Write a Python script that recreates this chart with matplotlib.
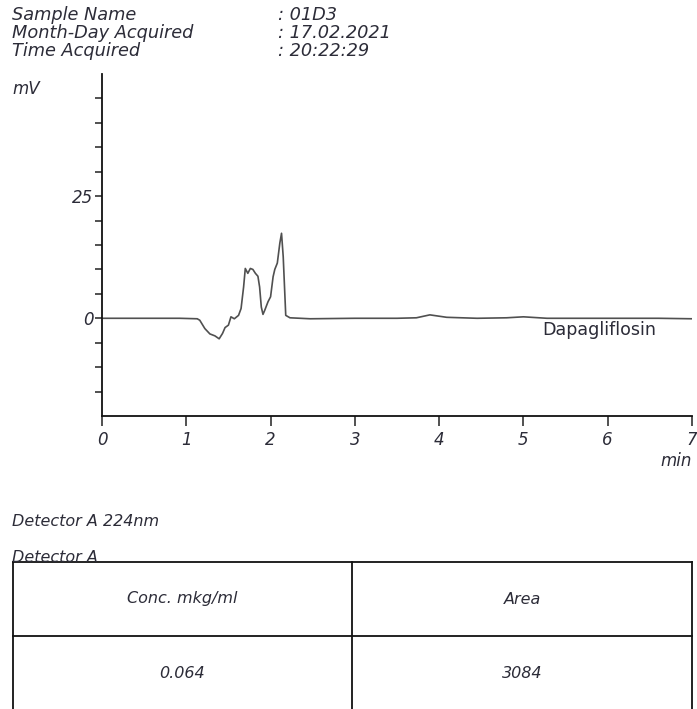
import matplotlib
matplotlib.use("Agg")
import matplotlib.pyplot as plt
from matplotlib.lines import Line2D

# ---------------- data ----------------
header_labels = ["Sample Name", "Month-Day Acquired", "Time Acquired"]
header_values = [": 01D3", ": 17.02.2021", ": 20:22:29"]

time_min = [0.0, 0.5, 0.92, 1.13, 1.16, 1.22, 1.28, 1.34, 1.39, 1.43, 1.46, 1.50,
            1.53, 1.57, 1.62, 1.65, 1.68, 1.70, 1.73, 1.76, 1.79, 1.82, 1.85,
            1.87, 1.89, 1.91, 1.93, 1.97, 2.00, 2.03, 2.05, 2.08, 2.11, 2.13,
            2.15, 2.18, 2.23, 2.47, 3.0, 3.5, 3.73, 3.89, 4.09, 4.45, 4.8,
            5.0, 5.28, 6.0, 6.6, 7.0]
signal_mv = [0.0, 0.0, 0.0, -0.1, -0.4, -2.1, -3.2, -3.6, -4.2, -3.1, -1.9, -1.4,
             0.3, -0.1, 0.6, 2.0, 6.4, 10.2, 9.2, 10.2, 10.0, 9.2, 8.6,
             6.4, 2.3, 0.8, 1.6, 3.4, 4.4, 8.5, 10.0, 11.3, 15.4, 17.4,
             12.6, 0.6, 0.1, -0.1, 0.0, 0.0, 0.1, 0.7, 0.2, 0.0, 0.1,
             0.3, 0.0, 0.0, 0.0, -0.1]

peak_name = "Dapagliflosin"
peak_label_pos = (5.22, -2.3)

x_ticks = [0, 1, 2, 3, 4, 5, 6, 7]
y_ticks = [-15, -10, -5, 0, 5, 10, 15, 20, 25, 30, 35, 40, 45]
y_labeled = [0, 25]

detector_title = "Detector A 224nm"
table_title = "Detector A"
table_headers = ["Conc. mkg/ml", "Area"]
table_values = ["0.064", "3084"]

# ---------------- figure ----------------
W, H = 697, 709
fig = plt.figure(figsize=(W / 100, H / 100), dpi=100)
TXT = "#2c2c38"
FONT = "DejaVu Sans"


def fx(px):
    return px / W


def fy(py):
    return 1 - py / H


def ftext(px, py, s, **kw):
    kw.setdefault("color", TXT)
    kw.setdefault("family", FONT)
    fig.text(fx(px), fy(py), s, **kw)


# header
base = [20.5, 38.0, 56.0]
for lab, val, b in zip(header_labels, header_values, base):
    ftext(12, b, lab, fontsize=12.8, style="italic", va="baseline")
    ftext(278, b, val, fontsize=12.8, style="italic", va="baseline")

ftext(12, 94, "mV", fontsize=12, style="italic", va="baseline")

# chromatogram axes
ax = fig.add_axes([fx(102), fy(416), fx(692) - fx(102), fy(74) - fy(416)])
ax.plot(time_min, signal_mv, color="#505050", lw=1.2)
ax.set_xlim(0, 7)
ax.set_ylim(-20, 50)
for s in ["top", "right"]:
    ax.spines[s].set_visible(False)
for s in ["left", "bottom"]:
    ax.spines[s].set_linewidth(1.3)
    ax.spines[s].set_color("#111111")
ax.set_xticks(x_ticks)
ax.set_xticklabels([str(v) for v in x_ticks], fontstyle="italic",
                   fontsize=12, color=TXT, family=FONT)
ax.set_yticks(y_ticks)
ax.set_yticklabels([str(v) if v in y_labeled else "" for v in y_ticks],
                   fontstyle="italic", fontsize=12, color=TXT, family=FONT)
ax.tick_params(axis="x", direction="out", length=7, width=1.2,
               color="#333333", pad=4)
ax.tick_params(axis="y", direction="out", length=5, width=1.2,
               color="#333333", pad=1)
ax.text(peak_label_pos[0], peak_label_pos[1], peak_name, fontsize=12.6,
        color=TXT, family=FONT, va="center", ha="left")

ftext(692, 466, "min", fontsize=12, style="italic", ha="right", va="baseline")

# detector texts
ftext(12, 526, detector_title, fontsize=11.5, style="italic", va="baseline")
ftext(12, 562, table_title, fontsize=11.5, style="italic", va="baseline")

# table
tl, tm, tr = 13, 352, 692
ttop, tdiv, tbot = 562, 636, 712
lines = [
    ((tl, tr), (ttop, ttop)),
    ((tl, tr), (tdiv, tdiv)),
    ((tl, tr), (tbot, tbot)),
    ((tl, tl), (ttop, tbot)),
    ((tm, tm), (ttop, tbot)),
    ((tr, tr), (ttop, tbot)),
]
for xs, ys in lines:
    fig.add_artist(Line2D([fx(xs[0]), fx(xs[1])], [fy(ys[0]), fy(ys[1])],
                          transform=fig.transFigure, color="#111111", lw=1.3))

col_centers = [(tl + tm) / 2, (tm + tr) / 2]
for cx, h, v in zip(col_centers, table_headers, table_values):
    ftext(cx, 599, h, fontsize=11.5, style="italic", ha="center", va="center")
    ftext(cx, 674, v, fontsize=11.5, style="italic", ha="center", va="center")

fig.savefig("out.png", dpi=100)
